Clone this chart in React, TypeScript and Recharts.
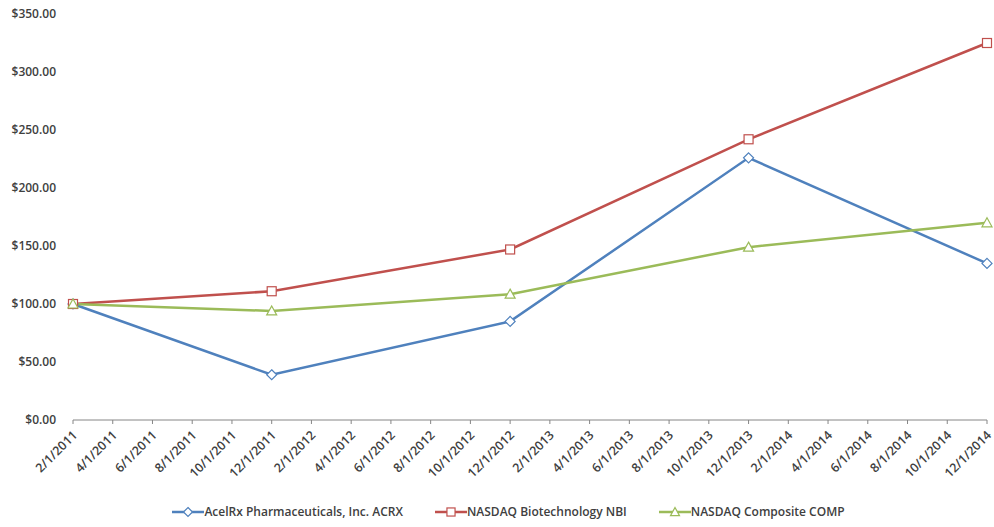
import { LineChart, Line, XAxis, YAxis, Legend } from 'recharts';

const dates = ['2/1/2011', '12/1/2011', '12/1/2012', '12/1/2013', '12/1/2014'];
const acrx = [100, 39, 85, 226, 135];
const nbi = [100, 111, 147, 242, 325];
const comp = [100, 94, 108.5, 149, 170];

const tickLabels = [
  '2/1/2011', '4/1/2011', '6/1/2011', '8/1/2011', '10/1/2011', '12/1/2011',
  '2/1/2012', '4/1/2012', '6/1/2012', '8/1/2012', '10/1/2012', '12/1/2012',
  '2/1/2013', '4/1/2013', '6/1/2013', '8/1/2013', '10/1/2013', '12/1/2013',
  '2/1/2014', '4/1/2014', '6/1/2014', '8/1/2014', '10/1/2014', '12/1/2014',
];
const yTicks = [0, 50, 100, 150, 200, 250, 300, 350];

const BLUE = '#4F81BD';
const RED = '#C0504D';
const GREEN = '#9BBB59';
const FONT = '"Open Sans", "Liberation Sans", sans-serif';

// months since Feb 2011
const monthIndex = (d: string) => {
  const [m, , y] = d.split('/').map(Number);
  return (y - 2011) * 12 + (m - 2);
};

const data = dates.map((d, i) => ({
  t: monthIndex(d),
  acrx: acrx[i],
  nbi: nbi[i],
  comp: comp[i],
}));

const series = [
  { key: 'acrx', name: 'AcelRx Pharmaceuticals, Inc. ACRX', color: BLUE, shape: 'diamond' },
  { key: 'nbi', name: 'NASDAQ Biotechnology NBI', color: RED, shape: 'square' },
  { key: 'comp', name: 'NASDAQ Composite COMP', color: GREEN, shape: 'triangle' },
];

function Marker({ cx, cy, shape, color, size = 1 }: any) {
  if (cx == null || cy == null) return null;
  if (shape === 'diamond') {
    const r = 5 * size;
    return (
      <path
        d={`M${cx},${cy - r} L${cx + r},${cy} L${cx},${cy + r} L${cx - r},${cy} Z`}
        fill="#fff"
        stroke={color}
        strokeWidth={1.2}
      />
    );
  }
  if (shape === 'square') {
    const r = 4.5 * size;
    return <rect x={cx - r} y={cy - r} width={r * 2} height={r * 2} fill="#fff" stroke={color} strokeWidth={1.2} />;
  }
  const r = 5 * size;
  return (
    <path
      d={`M${cx},${cy - r} L${cx + r},${cy + r * 0.8} L${cx - r},${cy + r * 0.8} Z`}
      fill="#fff"
      stroke={color}
      strokeWidth={1.2}
    />
  );
}

function XTick({ x, y, payload }: any) {
  const label = tickLabels[payload.value / 2];
  return (
    <text
      x={x + 5}
      y={y + 10}
      transform={`rotate(-45 ${x + 5} ${y + 10})`}
      textAnchor="end"
      fontSize={12.5}
      fontFamily={FONT}
      fontWeight={600}
      fill="#404040"
    >
      {label}
    </text>
  );
}

function LegendContent() {
  return (
    <div
      style={{
        display: 'flex',
        justifyContent: 'center',
        gap: 32,
        fontFamily: FONT,
        fontSize: 12,
        fontWeight: 600,
        color: '#404040',
        paddingLeft: 30,
      }}
    >
      {series.map((s) => (
        <div key={s.key} style={{ display: 'flex', alignItems: 'center' }}>
          <svg width={32} height={12}>
            <line x1={0} y1={6} x2={32} y2={6} stroke={s.color} strokeWidth={2.5} />
            <Marker cx={16} cy={6} shape={s.shape} color={s.color} size={0.9} />
          </svg>
          <span>{s.name}</span>
        </div>
      ))}
    </div>
  );
}

export default function App() {
  return (
    <div style={{ position: 'absolute', left: 0, top: 0, background: '#fff' }}>
      <LineChart width={994} height={527} data={data} margin={{ top: 14, right: 7, left: 0, bottom: 2 }}>
        <XAxis
          dataKey="t"
          type="number"
          domain={[0, 46]}
          ticks={tickLabels.map((_, i) => i * 2)}
          tick={<XTick />}
          tickLine={{ stroke: '#868686' }}
          tickSize={4}
          axisLine={{ stroke: '#868686' }}
          height={83}
          interval={0}
        />
        <YAxis
          domain={[0, 350]}
          ticks={yTicks}
          axisLine={false}
          tickLine={false}
          width={73}
          tickFormatter={(v: number) => `$${v.toFixed(2)}`}
          tick={{ fontSize: 12, fontFamily: FONT, fontWeight: 600, fill: '#404040' }}
          tickMargin={11}
        />
        <Legend verticalAlign="bottom" height={22} content={<LegendContent />} />
        {series.map((s) => (
          <Line
            key={s.key}
            dataKey={s.key}
            name={s.name}
            type="linear"
            stroke={s.color}
            strokeWidth={2.5}
            dot={(p: any) => <Marker key={`${s.key}-${p.index}`} cx={p.cx} cy={p.cy} shape={s.shape} color={s.color} />}
            activeDot={false}
            isAnimationActive={false}
          />
        ))}
      </LineChart>
    </div>
  );
}
